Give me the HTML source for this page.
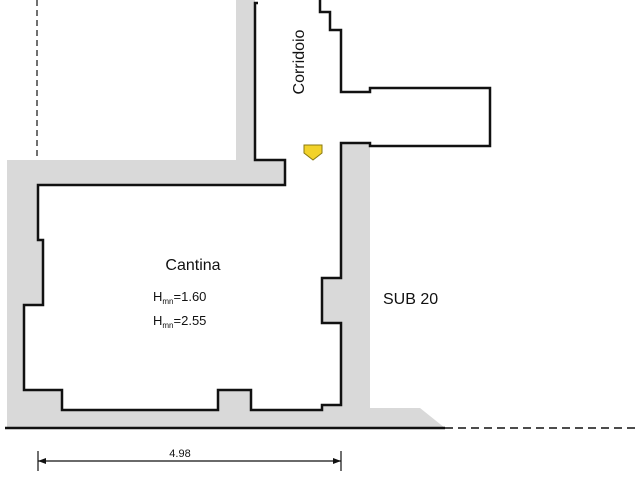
<!DOCTYPE html>
<html><head><style>body{margin:0;background:#fff}svg{display:block}text{font-family:"Liberation Sans",sans-serif;fill:#111}</style></head><body>
<svg width="640" height="480" viewBox="0 0 640 480">
<g fill="#d9d9d9">
<rect x="236" y="0" width="19" height="185"/>
<rect x="7" y="160" width="278" height="25"/>
<rect x="7" y="160" width="36" height="268"/>
<rect x="7" y="385" width="334" height="43"/>
<rect x="320" y="270" width="25" height="60"/>
<rect x="341" y="143" width="29" height="285"/>
<polygon points="370,408 420,408 445,428 370,428"/>
</g>
<polygon points="38,185 38,240 43,240 43,305 24,305 24,390 62,390 62,410 218,410 218,390 251,390 251,410 322,410 322,405 341,405 341,323 322,323 322,278 341,278 341,185" fill="#fff"/>
<g fill="none" stroke="#111" stroke-width="2.5">
<polyline points="258,3 255,3 255,160 285,160 285,185 38,185 38,240 43,240 43,305 24,305 24,390 62,390 62,410 218,410 218,390 251,390 251,410 322,410 322,405 341,405 341,323 322,323 322,278 341,278 341,143 370,143 370,146 490,146 490,88 370,88 370,92 341,92 341,30 330,30 330,12 320,12 320,0"/>
<line x1="5" y1="428" x2="445" y2="428"/>
</g>
<line x1="37" y1="0" x2="37" y2="160" stroke="#111" stroke-width="1.2" stroke-dasharray="6,4"/>
<line x1="445" y1="428" x2="640" y2="428" stroke="#111" stroke-width="1.5" stroke-dasharray="8,5"/>
<g stroke="#111" stroke-width="1.2">
<line x1="38" y1="461" x2="341" y2="461"/>
<line x1="38" y1="451" x2="38" y2="471"/>
<line x1="341" y1="451" x2="341" y2="471"/>
</g>
<polygon points="38,461 46,458 46,464" fill="#111"/>
<polygon points="341,461 333,458 333,464" fill="#111"/>
<polygon points="304,145 322,145 322,153 313,160 304,153" fill="#f2d22a" stroke="#8a7a10" stroke-width="1"/>
<text x="300" y="62" font-size="16" text-anchor="middle" transform="rotate(-90 300 62)" dominant-baseline="middle">Corridoio</text>
<text x="193" y="270" font-size="16" text-anchor="middle">Cantina</text>
<text x="153" y="301" font-size="13">H<tspan font-size="8" dy="3">mn</tspan><tspan dy="-3">=1.60</tspan></text>
<text x="153" y="325" font-size="13">H<tspan font-size="8" dy="3">mn</tspan><tspan dy="-3">=2.55</tspan></text>
<text x="383" y="304" font-size="16">SUB 20</text>
<text x="180" y="457" font-size="11" text-anchor="middle">4.98</text>
</svg>
</body></html>
